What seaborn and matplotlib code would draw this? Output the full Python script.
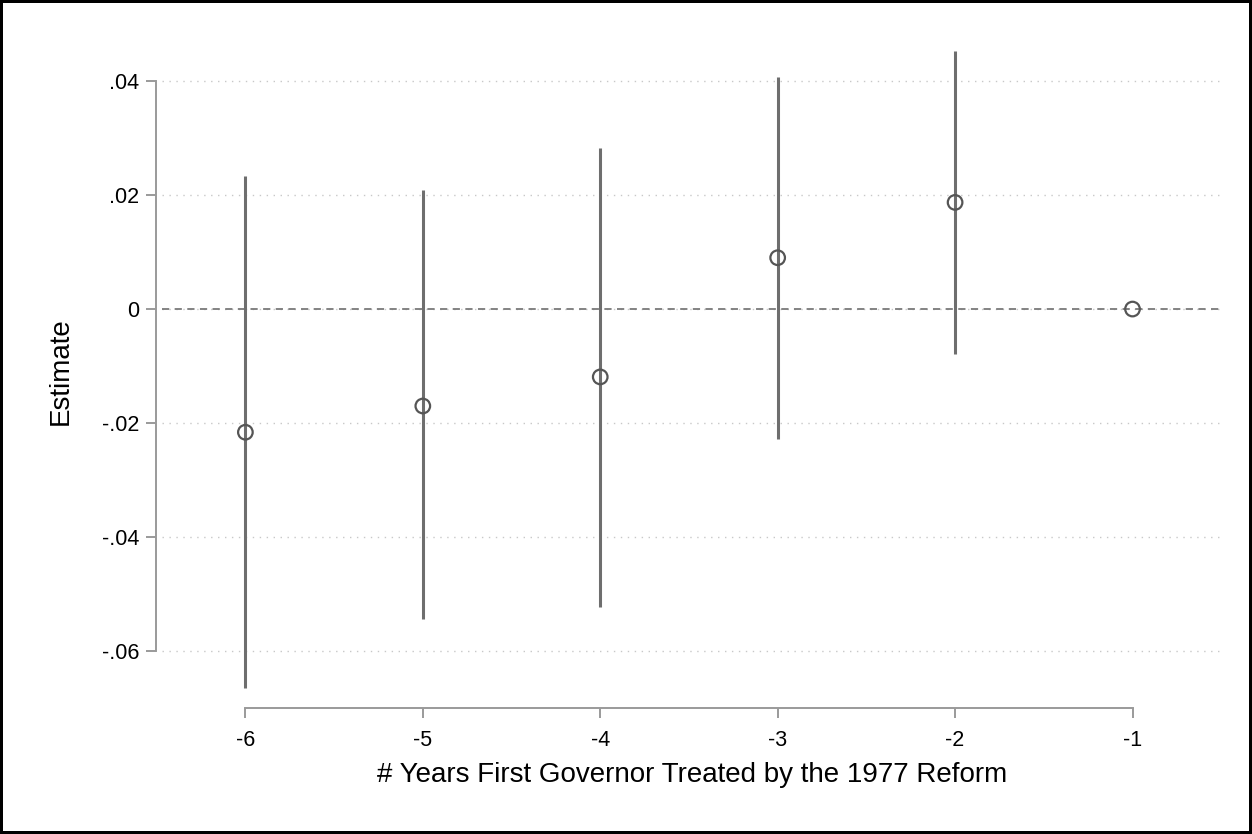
import numpy as np
import pandas as pd
import matplotlib
matplotlib.use('Agg')
import matplotlib.pyplot as plt
import seaborn as sns

# Event-study estimates
years = [-6, -5, -4, -3, -2, -1]
estimate = [-0.0216, -0.0170, -0.0119, 0.0090, 0.0187, 0.0]
ci_low = [-0.0665, -0.0544, -0.0522, -0.0227, -0.0079, 0.0]
ci_high = [0.0233, 0.0209, 0.0282, 0.0407, 0.0453, 0.0]
ytick_vals = [-0.06, -0.04, -0.02, 0, 0.02, 0.04]
ytick_labels = ['-.06', '-.04', '-.02', '0', '.02', '.04']

df = pd.DataFrame({'year': years, 'est': estimate, 'lo': ci_low, 'hi': ci_high})

sns.set_style('white')
plt.rcParams['font.family'] = ['Liberation Sans', 'DejaVu Sans']

fig = plt.figure(figsize=(12.52, 8.34), dpi=100)
fig.patch.set_edgecolor('black')
fig.patch.set_linewidth(3)
ax = fig.add_axes([162 / 1252, 1 - 698 / 834, (1223 - 162) / 1252, (698 - 45) / 834])

# zero reference line
ax.axhline(0, color='#7a7a7a', linestyle=(0, (4, 3)), linewidth=1.3, zorder=1)

# confidence intervals (skip the omitted reference year)
ci = df[df['hi'] != df['lo']]
ax.vlines(ci['year'], ci['lo'], ci['hi'], color='#6e6e6e', linewidth=2.2, zorder=2)

sns.scatterplot(data=df, x='year', y='est', ax=ax, s=110, marker='o',
                facecolor='none', edgecolor='#555555', linewidth=1.6, zorder=3)

ax.set_xlim(-6.47, -0.49)
ax.set_ylim(-0.0682, 0.0463)

ax.set_yticks(ytick_vals)
ax.set_yticklabels(ytick_labels)
ax.set_xticks(years)
ax.set_xticklabels([str(y) for y in years])

# dotted light grid, hidden at zero
ax.yaxis.grid(True, linestyle=(0, (1, 4)), color='#c8c8c8', linewidth=1.0)
for val, gl in zip(ytick_vals, ax.get_ygridlines()):
    if val == 0:
        gl.set_visible(False)

for side in ['top', 'right']:
    ax.spines[side].set_visible(False)
ax.spines['left'].set_position(('outward', 4.5))
ax.spines['left'].set_bounds(-0.06, 0.04)
ax.spines['bottom'].set_position(('outward', 7))
ax.spines['bottom'].set_bounds(-6, -1)
for side in ['left', 'bottom']:
    ax.spines[side].set_color('#9a9a9a')
    ax.spines[side].set_linewidth(1.4)

ax.tick_params(axis='both', which='major', direction='out', length=7, width=1.4,
               bottom=True, left=True,
               color='#9a9a9a', labelsize=15.5, labelcolor='black')
ax.tick_params(axis='y', pad=5)
ax.tick_params(axis='x', pad=9)

ax.set_xlabel('# Years First Governor Treated by the 1977 Reform', fontsize=20,
              labelpad=8, color='black')
ax.set_ylabel('Estimate', fontsize=20, labelpad=20, color='black')

fig.savefig('out.png', dpi=100, edgecolor=fig.get_edgecolor())
